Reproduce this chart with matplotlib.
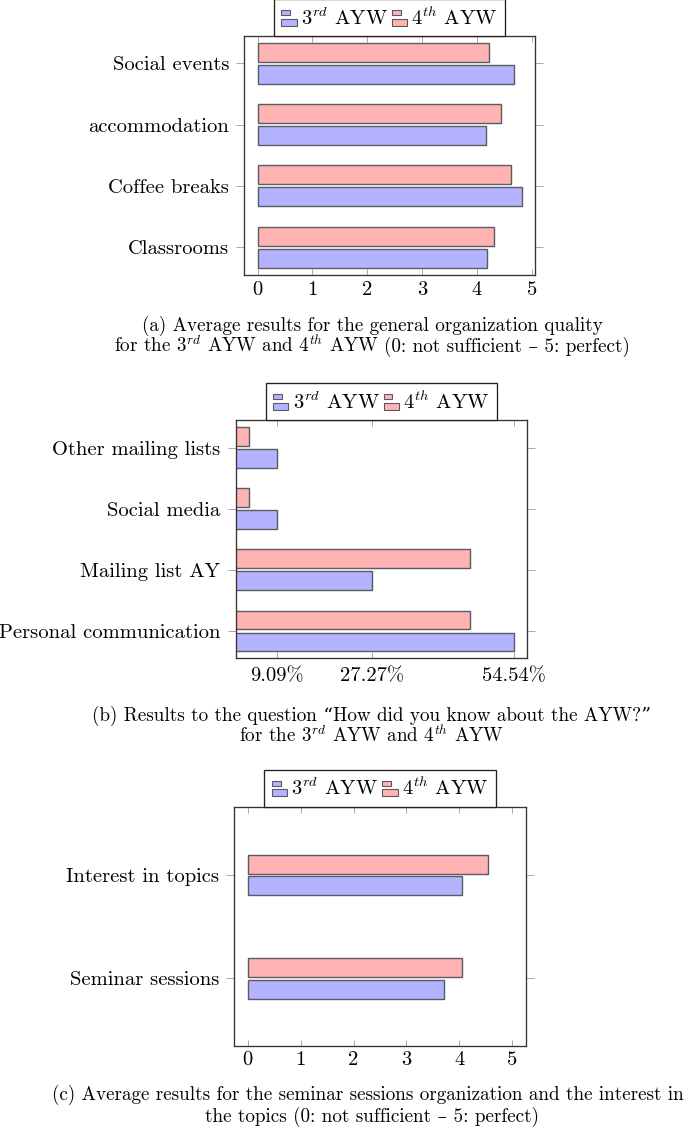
import matplotlib
matplotlib.use("Agg")
import matplotlib.pyplot as plt
from matplotlib.patches import Rectangle
from matplotlib.legend_handler import HandlerBase

plt.rcParams['font.family'] = ['cmr10', 'DejaVu Serif']
plt.rcParams['mathtext.fontset'] = 'cm'
plt.rcParams['axes.unicode_minus'] = False
plt.rcParams['axes.formatter.use_mathtext'] = True

# ---------------- data ----------------
series_names = [r'$3^{rd}$ AYW', r'$4^{th}$ AYW']

cats_a = ['Classrooms', 'Coffee breaks', 'accommodation', 'Social events']
a_3rd = [4.18, 4.82, 4.17, 4.67]
a_4th = [4.31, 4.62, 4.44, 4.23]

cats_b = ['Personal communication', 'Mailing list AY', 'Social media', 'Other mailing lists']
b_3rd = [54.54, 27.27, 9.09, 9.09]
b_4th = [46.15, 46.15, 3.85, 3.85]
b_ticks = [9.09, 27.27, 54.54]
b_ticklabels = ['9.09%', '27.27%', '54.54%']

cats_c = ['Seminar sessions', 'Interest in topics']
c_3rd = [3.71, 4.05]
c_4th = [4.05, 4.53]

ab_ticks = [0, 1, 2, 3, 4, 5]

# caption lines; each line is a list of pieces drawn side by side
captions_a = [['(a) Average results for the general organization quality'],
              [r'for the $3^{rd}$ AYW and $4^{th}$ AYW', '(0: not sufficient – 5: perfect)']]
captions_b = [['(b) Results to the question “How did you know about the AYW?”'],
              [r'for the $3^{rd}$ AYW and $4^{th}$ AYW']]
captions_c = [['(c) Average results for the seminar sessions organization and the interest in'],
              ['the topics (0: not sufficient – 5: perfect)']]

# ---------------- style ----------------
W, H = 685, 1128
FS = 14.8
CAP_FS = 13.75
BLUE = '#b3b3ff'
RED = '#ffb3b3'
EDGE = '#5a5a62'
TICKC = '#a8a8a8'

fig = plt.figure(figsize=(W / 100, H / 100), dpi=100)


def px_axes(left, top, right, bottom):
    return fig.add_axes([left / W, 1 - bottom / H, (right - left) / W, (bottom - top) / H])


class BarPairHandler(HandlerBase):
    def create_artists(self, legend, orig_handle, xdescent, ydescent,
                       width, height, fontsize, trans):
        fc = orig_handle.get_facecolor()
        x0, y0 = -xdescent, -ydescent
        r1 = Rectangle((x0, y0 + height * 0.62), width * 0.58, height * 0.33,
                       facecolor=fc, edgecolor=EDGE, lw=0.8, transform=trans)
        r2 = Rectangle((x0, y0 + height * 0.02), width, height * 0.42,
                       facecolor=fc, edgecolor=EDGE, lw=0.8, transform=trans)
        return [r1, r2]


def draw_panel(ax, cats, v3, v4, xlim, ylim, bh, off, xticks, xticklabels, xpad):
    ys = list(range(len(cats)))
    h3 = ax.barh([y - off for y in ys], v3, height=bh, color=BLUE,
                 edgecolor=EDGE, linewidth=1.0, zorder=2)
    h4 = ax.barh([y + off for y in ys], v4, height=bh, color=RED,
                 edgecolor=EDGE, linewidth=1.0, zorder=2)
    ax.set_xlim(*xlim)
    ax.set_ylim(*ylim)
    ax.set_yticks(ys)
    ax.set_yticklabels(cats, fontsize=FS)
    ax.set_xticks(xticks)
    ax.set_xticklabels(xticklabels, fontsize=FS)
    ax.tick_params(axis='y', direction='out', length=5.5, width=0.7, color=TICKC,
                   left=True, right=True, pad=5.5)
    ax.tick_params(axis='x', direction='in', length=4.3, width=0.7, color=TICKC,
                   top=True, bottom=True, pad=xpad)
    for s in ax.spines.values():
        s.set_color('#333333')
        s.set_linewidth(0.95)
        s.set_zorder(3)
    leg = ax.legend(handles=[h3[0], h4[0]], labels=series_names, loc='lower center',
                    bbox_to_anchor=(0.5, 1.0), ncol=2, fontsize=FS, frameon=True,
                    fancybox=False, framealpha=1, edgecolor='#222222',
                    borderpad=0.36, handletextpad=0.2, columnspacing=0.2,
                    handlelength=0.75, handleheight=0.9, borderaxespad=0.0,
                    handler_map={Rectangle: BarPairHandler()})
    leg.get_frame().set_linewidth(0.95)
    return leg


ax_a = px_axes(244.3, 36, 535, 275.3)
draw_panel(ax_a, cats_a, a_3rd, a_4th, (-0.241, 5.06), (-0.457, 3.445), 0.31, 0.18,
           ab_ticks, [str(t) for t in ab_ticks], 4.5)

ax_b = px_axes(235.7, 420, 526.7, 658.3)
draw_panel(ax_b, cats_b, b_3rd, b_4th, (1.24, 56.94), (-0.447, 3.453), 0.31, 0.18,
           b_ticks, b_ticklabels, 6.5)

ax_c = px_axes(234.3, 806.7, 525.7, 1046)
draw_panel(ax_c, cats_c, c_3rd, c_4th, (-0.25, 5.25), (-0.655, 1.661), 0.184, 0.106,
           ab_ticks, [str(t) for t in ab_ticks], 3.5)

renderer = fig.canvas.get_renderer()
GAP = 0.28 * CAP_FS * 100 / 72.0


def caption_line(cx, y_base, pieces, right_limit=684.0):
    texts = [fig.text(0, 1 - y_base / H, p, ha='left', va='baseline', fontsize=CAP_FS)
             for p in pieces]
    widths = [t.get_window_extent(renderer).width for t in texts]
    total = sum(widths) + GAP * (len(texts) - 1)
    x = cx - total / 2
    if x + total > right_limit:
        x = right_limit - total
    for t, w in zip(texts, widths):
        t.set_x(x / W)
        x += w + GAP


CX = 372
caption_line(CX, 331, captions_a[0])
caption_line(CX, 352, captions_a[1])
caption_line(CX, 721, captions_b[0])
caption_line(CX, 742, captions_b[1])
caption_line(CX, 1100, captions_c[0])
caption_line(CX, 1122, captions_c[1])

fig.savefig('out.png', dpi=100)
